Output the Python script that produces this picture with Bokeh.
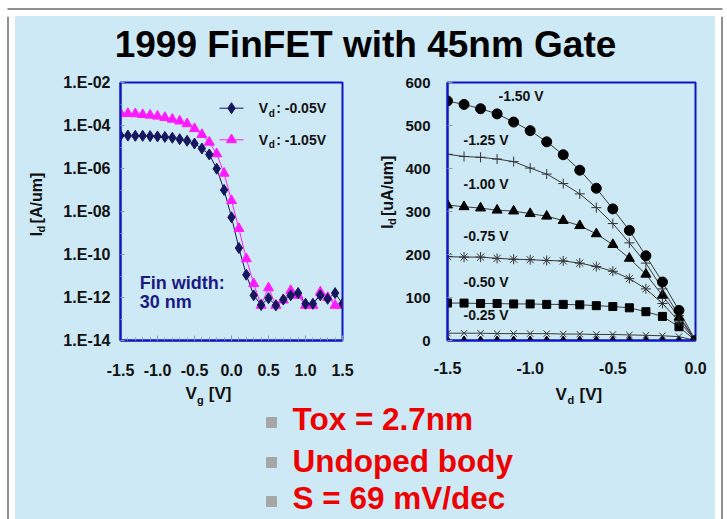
import math
from bokeh.plotting import figure
from bokeh.layouts import column, row
from bokeh.models import Label, FixedTicker, CustomJSTickFormatter, Range1d
from bokeh.embed import file_html
from bokeh.resources import INLINE

BG = "#cde9f5"
FONT = "Liberation Sans"
BLUE = "#0c16c4"
NAVY = "#16165e"
MAGENTA = "#ff1aff"

# ---------------- data: left chart (Id-Vg, log scale) ----------------
vg = [-1.5, -1.4, -1.3, -1.2, -1.1, -1.0, -0.9, -0.8, -0.7, -0.6, -0.5,
      -0.4, -0.3, -0.2, -0.1, 0.0, 0.1, 0.2, 0.3, 0.4, 0.5,
      0.6, 0.7, 0.8, 0.9, 1.0, 1.1, 1.2, 1.3, 1.4, 1.5]
id_vd_005 = [3.4e-5, 3.4e-5, 3.3e-5, 3.3e-5, 3.2e-5, 3.1e-5, 2.95e-5, 2.7e-5, 2.3e-5, 1.95e-5, 1.45e-5,
             8.5e-6, 4.5e-6, 9.8e-7, 1.0e-7, 5.4e-9, 2.0e-10, 1.15e-11, 1.26e-12, 4.5e-13, 9.3e-13,
             4.3e-13, 8.0e-13, 1.26e-12, 1.6e-12, 5.1e-13, 5.1e-13, 1.26e-12, 8.7e-13, 1.6e-12, 5.1e-13]
id_vd_105 = [3.7e-4, 3.6e-4, 3.5e-4, 3.2e-4, 3.0e-4, 2.7e-4, 2.35e-4, 1.95e-4, 1.6e-4, 1.2e-4, 7.1e-5,
             3.8e-5, 1.66e-5, 4.8e-6, 6.0e-7, 3.2e-8, 1.6e-9, 6.3e-11, 4.4e-12, 4.3e-13, 2.8e-12,
             4.3e-13, 7.6e-13, 2.1e-12, 1.26e-12, 4.3e-13, 4.3e-13, 1.8e-12, 1.0e-12, 4.3e-13, 4.3e-13]
left_yticks = [1e-14, 1e-12, 1e-10, 1e-8, 1e-6, 1e-4, 1e-2]
left_yminor = [1e-13, 1e-11, 1e-9, 1e-7, 1e-5, 1e-3]
left_xticks = [-1.5, -1.0, -0.5, 0.0, 0.5, 1.0, 1.5]

# ---------------- data: right chart (Id-Vd, linear) ----------------
vd = [-1.5, -1.4, -1.3, -1.2, -1.1, -1.0, -0.9, -0.8, -0.7, -0.6, -0.5, -0.4, -0.3, -0.2, -0.1, 0.0]
id_150 = [557, 549, 539, 527, 508, 488, 462, 432, 396, 354, 306, 256, 197, 136, 70, 0]
id_125 = [433, 428, 426, 422, 416, 401, 387, 365, 341, 309, 272, 227, 180, 120, 58, 0]
id_100 = [315, 311, 308, 303, 301, 295, 289, 279, 267, 248, 223, 191, 154, 105, 54, 0]
id_075 = [195, 194, 194, 191, 189, 188, 186, 185, 180, 172, 161, 144, 120, 86, 45, 0]
id_050 = [87, 87, 86, 86, 85, 85, 84, 84, 83, 81, 79, 76, 67, 56, 32, 0]
id_025 = [17, 17, 17, 16, 16, 16, 16, 15, 15, 14, 14, 13, 12, 11, 9, 0]
id_000 = [0, 0, 0, 0, 0, 0, 0, 0, 0, 0, 0, 0, 0, 0, 0, 0]
right_yticks = [0, 100, 200, 300, 400, 500, 600]
right_xticks = [-1.5, -1.0, -0.5, 0.0]
curve_labels = ["-1.50 V", "-1.25 V", "-1.00 V", "-0.75 V", "-0.50 V", "-0.25 V"]

title_text = "1999 FinFET with 45nm Gate"
bullets = ["Tox = 2.7nm", "Undoped body", "S = 69 mV/dec"]

# ---------------- page geometry (page pixels -> data) ----------------
# left frame: x 120..342, y 82..340 ; right frame: x 447..695, y 77..343
def lx(px):
    return -1.5 + (px - 120) / 74.0

def ly(py):
    return 10 ** (-2 - (py - 82) / 21.5)

def rx(px):
    return -1.5 + (px - 447) / (248 / 1.5)

def ry(py):
    return (343 - py) / (266 / 600.0)

fmt1 = CustomJSTickFormatter(code="return tick.toFixed(1);")
fmt_e = CustomJSTickFormatter(code="""
const e = Math.round(Math.log10(tick));
const a = Math.abs(e);
return '1.E' + (e < 0 ? '-' : '+') + (a < 10 ? '0' + a : '' + a);
""")

SHIFT = 0.35   # horizontal labels render ~0.35em lower than their anchor; compensate


def style_axes(p, size):
    for ax in [p.xaxis[0], p.yaxis[0]]:
        ax.major_label_text_font = FONT
        ax.major_label_text_font_size = size
        ax.major_label_text_font_style = "bold"
        ax.major_label_text_color = "#111111"
        ax.axis_line_color = BLUE
        ax.axis_line_width = 2
        ax.major_tick_out = 0
        ax.minor_tick_out = 0
        ax.major_tick_line_color = "#8a96b0"
        ax.minor_tick_line_color = "#8a96b0"


def txt(p, fx, fy, px, py, text, size, color="#111111", align="left", baseline="alphabetic",
        rotated=False):
    if rotated:
        angle = math.pi / 2
    else:
        py = py - SHIFT * size
        angle = 0.0
    p.add_layout(Label(x=fx(px), y=fy(py), text=text, text_font=FONT, text_font_size=f"{size}px",
                       text_font_style="bold", text_color=color, text_align=align,
                       text_baseline=baseline, angle=angle))


def blank(w, h, bg=BG):
    f = figure(width=w, height=h, x_range=Range1d(0, w), y_range=Range1d(0, h),
               output_backend="svg", toolbar_location=None, min_border=0,
               background_fill_color=bg, border_fill_color=bg, outline_line_color=None)
    f.axis.visible = False
    f.grid.visible = False
    return f

ROW_TOP, ROW_H = 70, 314

# ---------------- left figure ----------------
left = figure(width=321, height=ROW_H, x_range=Range1d(-1.5, 1.5), y_range=Range1d(1e-14, 1e-2),
              y_axis_type="log", output_backend="svg", toolbar_location=None,
              min_border_left=65, min_border_right=34, min_border_top=12, min_border_bottom=44,
              background_fill_color=BG, border_fill_color=BG,
              outline_line_color=BLUE, outline_line_width=2)
left.grid.visible = False
left.yaxis.ticker = FixedTicker(ticks=left_yticks, minor_ticks=left_yminor)
left.yaxis.formatter = fmt_e
left.xaxis.ticker = FixedTicker(ticks=left_xticks, minor_ticks=[t / 10 for t in range(-15, 16)])
left.xaxis.formatter = fmt1
style_axes(left, "16px")
left.yaxis.major_label_standoff = 10
left.xaxis.major_label_standoff = 23
left.yaxis.major_tick_in = 4
left.yaxis.minor_tick_in = 2
left.xaxis.major_tick_in = 5
left.xaxis.minor_tick_in = 3

left.line(vg, id_vd_105, line_color=MAGENTA, line_width=1)
left.line(vg, id_vd_005, line_color=NAVY, line_width=1)
left.scatter(vg, id_vd_105, marker="triangle", size=10, fill_color=MAGENTA, line_color=MAGENTA)
left.scatter(vg, id_vd_005, marker="diamond", size=11, fill_color=NAVY, line_color=NAVY)

# legend (custom, with subscripts)
left.line([lx(219), lx(243)], [ly(107.7), ly(107.7)], line_color=NAVY, line_width=1)
left.scatter([lx(231)], [ly(107.7)], marker="diamond", size=11, fill_color=NAVY, line_color=NAVY)
left.line([lx(219), lx(243)], [ly(139.3), ly(139.3)], line_color=MAGENTA, line_width=1)
left.scatter([lx(231)], [ly(139.3)], marker="triangle", size=10, fill_color=MAGENTA, line_color=MAGENTA)
for base, t in [(112.7, ": -0.05V"), (144.0, ": -1.05V")]:
    txt(left, lx, ly, 258.3, base, "V", 14)
    txt(left, lx, ly, 268.3, base + 3.5, "d", 10)
    txt(left, lx, ly, 275.7, base, t, 14)

txt(left, lx, ly, 139.3, 288.3, "Fin width:", 18, color="#1a1a80")
txt(left, lx, ly, 139.3, 307.3, "30 nm", 18, color="#1a1a80")

# ---------------- right figure ----------------
right = figure(width=315, height=ROW_H, x_range=Range1d(-1.5, 0.0), y_range=Range1d(0, 600),
               output_backend="svg", toolbar_location=None,
               min_border_left=47, min_border_right=20, min_border_top=7, min_border_bottom=41,
               background_fill_color=BG, border_fill_color=BG,
               outline_line_color=BLUE, outline_line_width=2)
right.grid.visible = False
right.yaxis.ticker = FixedTicker(ticks=right_yticks, minor_ticks=[])
right.xaxis.ticker = FixedTicker(ticks=right_xticks, minor_ticks=[])
right.xaxis.formatter = fmt1
style_axes(right, "16px")
right.yaxis.major_label_text_font_size = "15px"
right.yaxis.major_label_standoff = 17
right.xaxis.major_label_standoff = 21
right.yaxis.major_tick_in = 5
right.xaxis.major_tick_in = 0

LC = "#3a3a3a"
series = [(id_000, "diamond", 9), (id_025, "x", 9), (id_050, "square", 8), (id_075, "asterisk", 10),
          (id_100, "triangle", 10), (id_125, "cross", 10), (id_150, "circle", 10)]
for ys, mk, sz in series:
    right.line(vd, ys, line_color=LC, line_width=1)
for ys, mk, sz in series:
    if mk in ("x", "asterisk", "cross"):
        right.scatter(vd, ys, marker=mk, size=sz, line_color="#333333", line_width=1)
    else:
        right.scatter(vd, ys, marker=mk, size=sz, fill_color="black", line_color="black")

label_pos = [(498, 95.7), (463, 141), (463, 187), (463, 240), (463, 288), (463, 322)]
for (px, py), t in zip(label_pos, curve_labels):
    txt(right, rx, ry, px, py, t, 14, baseline="middle")

# ---------------- y-axis title strips (allow subscripts) ----------------
ROW_BOT = ROW_TOP + ROW_H
yl1 = blank(40, ROW_H)          # page x 15..55, y 70..384
f1x = lambda px: px - 15
f1y = lambda py: ROW_BOT - py
txt(yl1, f1x, f1y, 36, 257, "I", 16, baseline="middle", rotated=True)
txt(yl1, f1x, f1y, 40.5, 252.5, "d", 11, baseline="middle", rotated=True)
txt(yl1, f1x, f1y, 36, 241.5, "[A/um]", 16, baseline="middle", rotated=True)

yl2 = blank(24, ROW_H)          # page x 376..400
f2x = lambda px: px - 376
txt(yl2, f2x, f1y, 387, 248, "I", 16, baseline="middle", rotated=True)
txt(yl2, f2x, f1y, 391.5, 243.5, "d", 11, baseline="middle", rotated=True)
txt(yl2, f2x, f1y, 387, 232.5, "[uA/um]", 16, baseline="middle", rotated=True)

# ---------------- title ----------------
top = blank(700, 54)            # page y 16..70
txt(top, lambda px: px - 15, lambda py: 70 - py, 365, 56.5, title_text, 37, color="black", align="center")

# ---------------- x-axis titles + bullets (one strip, page y 384..519) ----------------
LOW_H = 519 - ROW_BOT
low = blank(700, LOW_H)
fbx = lambda px: px - 15
fby = lambda py: 519 - py
txt(low, fbx, fby, 185, 399.3, "V", 17)
txt(low, fbx, fby, 196.5, 403, "g", 11)
txt(low, fbx, fby, 208.3, 399.3, "[V]", 17)
txt(low, fbx, fby, 555, 400, "V", 17)
txt(low, fbx, fby, 567, 403.5, "d", 11)
txt(low, fbx, fby, 579, 400, "[V]", 17)

bullet_base = [430, 471.7, 508.3]
bullet_sq = [422, 462, 501]
low.scatter([fbx(271)] * 3, [fby(v) for v in bullet_sq], marker="square", size=10,
            fill_color="#a6a6a6", line_color="#a6a6a6")
for b, t in zip(bullet_base, bullets):
    txt(low, fbx, fby, 292, b, t, 31.5, color="#ee0000")

inner = column(top, row(yl1, left, yl2, right), low, styles={"background-color": BG})

# ---------------- slide frame: thin black rule + white margin ----------------
frame_top = blank(727, 16, bg="white")
frame_top.quad(left=[7], right=[722], bottom=[7], top=[8], fill_color="#222222", line_color=None)
frame_l = blank(15, 503, bg="white")
frame_l.quad(left=[7], right=[8], bottom=[0], top=[503], fill_color="#222222", line_color=None)
frame_r = blank(12, 503, bg="white")
frame_r.quad(left=[6], right=[7], bottom=[0], top=[503], fill_color="#222222", line_color=None)

outer = column(frame_top, row(frame_l, inner, frame_r))

open("out.html", "w").write(file_html(outer, INLINE))
